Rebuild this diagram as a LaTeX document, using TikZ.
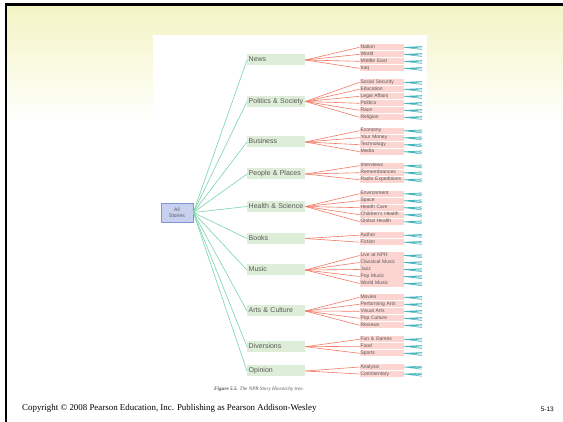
\documentclass[tikz,border=0pt]{standalone}
\usepackage{fontspec}
\setmainfont{Liberation Serif}
\setsansfont{Liberation Sans}
\usetikzlibrary{positioning}

\definecolor{slideyellow}{RGB}{243,244,196}
\definecolor{catgreen}{RGB}{221,237,215}
\definecolor{subpink}{RGB}{252,213,208}
\definecolor{rootblue}{RGB}{200,208,240}
\definecolor{rootedge}{RGB}{128,150,212}
\definecolor{linegreen}{RGB}{120,214,172}
\definecolor{linered}{RGB}{242,122,100}
\definecolor{lineteal}{RGB}{70,178,186}
\definecolor{labelgray}{RGB}{88,88,88}

\tikzset{
  rootbox/.style={draw=rootedge, fill=rootblue, line width=0.6pt, minimum width=32pt,
    minimum height=19pt, inner sep=0pt, align=center, text=labelgray,
    font=\sffamily\fontsize{5}{5.6}\selectfont},
  catbox/.style={fill=catgreen, anchor=west, text width=55pt, inner xsep=1.5pt,
    inner ysep=0pt, minimum height=11pt, text height=5.1pt, text depth=1.4pt,
    align=left, text=labelgray, font=\sffamily\fontsize{7}{8}\selectfont},
  subbox/.style={fill=subpink, anchor=west, text width=42.5pt, inner xsep=0.8pt,
    inner ysep=0pt, minimum height=6.3pt, text height=3.6pt, text depth=1pt,
    align=left, text=labelgray, font=\sffamily\fontsize{5}{5.5}\selectfont},
  greenline/.style={linegreen, line width=0.6pt},
  redline/.style={linered, line width=0.6pt},
  tealfan/.style={lineteal, line width=0.55pt}
}

\begin{document}
\begin{tikzpicture}[x=1pt, y=-1pt]
    \useasboundingbox (0,0) rectangle (563,422);

    % Slide background
    \fill[white] (0,0) rectangle (563,422);
    \shade[top color=slideyellow, bottom color=white] (6,5) rectangle (563,125);
    \fill[white] (153,35) rectangle (427,395);
    \draw[line width=2.8pt, line join=miter] (6,422) -- (6,4.7) -- (563,4.7);

    % Root
    \node[rootbox] (root) at (177,212.5) {All\\Stories};

    % Categories and their subtopics
    \foreach \n/\lab/\cy/\sy/\subs in {
        news/News/60/47.3/{Nation,World,Middle East,Iraq},
        politics/Politics \& Society/101.5/82.3/{Social Security,Education,Legal Affairs,Politics,Race,Religion},
        business/Business/142/130.7/{Economy,Your Money,Technology,Media},
        people/People \& Places/174/165.7/{Interviews,Remembrances,Radio Expeditions},
        health/Health \& Science/206.5/193.7/{Environment,Space,Health Care,Children's Health,Global Health},
        books/Books/238.5/235.2/{Author,Fiction},
        music/Music/270/255.5/{Live at NPR,Classical Music,Jazz,Pop Music,World Music},
        arts/Arts \& Culture/311/297.3/{Movies,Performing Arts,Visual Arts,Pop Culture,Reviews},
        diversions/Diversions/346.7/339.3/{Fun \& Games,Food,Sports},
        opinion/Opinion/371/367/{Analysis,Commentary}} {
        \node[catbox] (\n) at (247,\cy) {\lab};
        \draw[greenline] (root.east) -- (\n.west);
        \foreach \s [count=\i] in \subs {
            \node[subbox] (\n-\i) at (359.5,{\sy+7*(\i-1)}) {\s};
            \draw[redline] (\n.east) -- (\n-\i.west);
            \draw[tealfan] (\n-\i.east) -- ++(18,2.2)
                           (\n-\i.east) -- ++(18,0.6)
                           (\n-\i.east) -- ++(18,-0.8);
        }
    }

    % Caption and footer
    \node[font=\fontsize{5.2}{6}\selectfont, text=labelgray] (caption) at (259,389)
        {\textbf{\textit{Figure 5.5.}} \textit{The NPR Story Hierarchy tree.}};
    \node[anchor=west, inner sep=0pt, font=\fontsize{8.9}{10}\selectfont] (copyright) at (22,408)
        {Copyright \textcopyright{} 2008 Pearson Education, Inc. Publishing as Pearson Addison-Wesley};
    \node[anchor=east, inner sep=0pt, font=\sffamily\fontsize{6.5}{7}\selectfont] (pagenum) at (554,409) {5-13};
\end{tikzpicture}
\end{document}
